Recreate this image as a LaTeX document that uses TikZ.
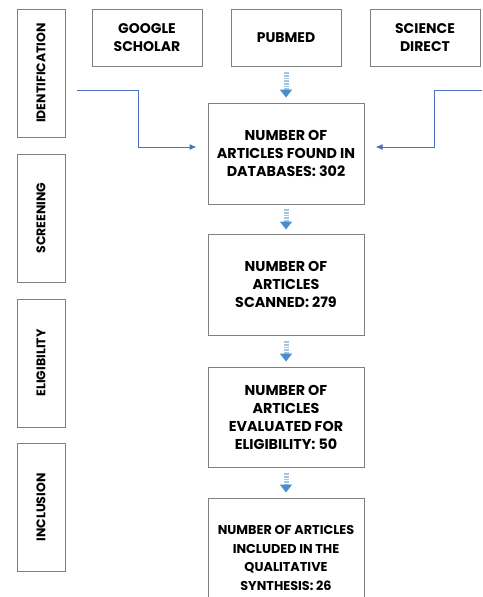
\documentclass[tikz,border=0pt]{standalone}
\usepackage{fontspec}
\setmainfont{Poppins}
\usetikzlibrary{arrows.meta}
\definecolor{linkblue}{HTML}{4A72C0}
\definecolor{arrblue}{HTML}{4B8CCB}
\definecolor{boxgray}{HTML}{808080}
\begin{document}
\begin{tikzpicture}[x=1pt,y=-1pt]
    \def\cx{286}
    \def\sx{41}

    \tikzstyle{stage}=[draw=boxgray,line width=1pt,minimum width=48pt,minimum height=128pt,inner sep=0pt]
    \tikzstyle{stagetext}=[rotate=90,font=\bfseries\fontsize{12.5}{14}\selectfont]
    \tikzstyle{source}=[draw=boxgray,line width=1pt,minimum width=110pt,minimum height=57pt,align=center,font=\bfseries\fontsize{14}{18}\selectfont]
    \tikzstyle{count}=[draw=boxgray,line width=1pt,minimum width=156pt,minimum height=101pt,align=center,font=\bfseries\fontsize{14.3}{18}\selectfont]

    \clip (0,0) rectangle (482,597);
    \fill[white] (0,0) rectangle (482,597);

    % stages on the left
    \node[stage] (idf) at (\sx,73) {};
    \node[stage] (scr) at (\sx,218) {};
    \node[stage] (elg) at (\sx,363) {};
    \node[stage] (inc) at (\sx,507.5) {};
    \node[stagetext] at (idf) {IDENTIFICATION};
    \node[stagetext] at (scr) {SCREENING};
    \node[stagetext] at (elg) {ELIGIBILITY};
    \node[stagetext] at (inc) {INCLUSION};

    % databases
    \node[source] (google) at (147,37.5) {GOOGLE\\SCHOLAR};
    \node[source] (pubmed) at (\cx,37.5) {PUBMED};
    \node[source] (science) at (425,37.5) {SCIENCE\\DIRECT};

    % counts
    \node[count] (found) at (\cx,153.5) {NUMBER OF\\ARTICLES FOUND IN\\DATABASES: 302};
    \node[count] (scanned) at (\cx,284.5) {NUMBER OF\\ARTICLES\\SCANNED: 279};
    \node[count,minimum height=100pt] (evaluated) at (\cx,417) {NUMBER OF\\ARTICLES\\EVALUATED FOR\\ELIGIBILITY: 50};
    \node[count,minimum height=120pt,font=\bfseries\fontsize{12.8}{18.5}\selectfont] (included) at (\cx,558) {NUMBER OF ARTICLES\\INCLUDED IN THE\\QUALITATIVE\\SYNTHESIS: 26};

    \coordinate (lin) at (77,90);
    \coordinate (rin) at (482,90);

    \tikzstyle{side} = [draw=linkblue, line width=1pt, -{Latex[length=7pt,width=6pt]}]
    \tikzstyle{dn} = [draw=arrblue!50, line width=5pt, dash pattern=on 0.8pt off 0.8pt,
        -{Triangle[width=12pt,length=8pt,fill=arrblue,color=arrblue]}]

          \draw [side] (lin) -| (138,147) -- ([xshift=-11pt]found.west |- 0,147);
          \draw [side] (rin) -| (434,147) -- ([xshift=11pt]found.east |- 0,147);
          \draw [dn] ([yshift=-5pt]pubmed.south) -- ([yshift=5pt]found.north);
          \draw [dn] ([yshift=-4pt]found.south) -- ([yshift=4pt]scanned.north);
          \draw [dn] ([yshift=-5pt]scanned.south) -- ([yshift=5pt]evaluated.north);
          \draw [dn] ([yshift=-5pt]evaluated.south) -- ([yshift=5pt]included.north);

  \end{tikzpicture}
\end{document}
